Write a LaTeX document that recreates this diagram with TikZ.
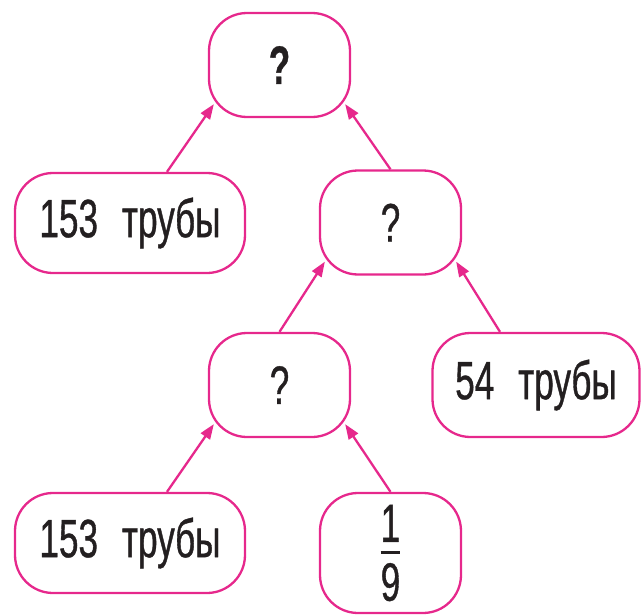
\documentclass[tikz,border=0pt]{standalone}
\usepackage{fontspec}
\setmainfont{Liberation Sans}[FakeStretch=0.65,FakeBold=0.7]
\usetikzlibrary{arrows.meta,calc}
\definecolor{pinkline}{RGB}{230,40,140}
\definecolor{inktext}{RGB}{35,31,32}
\tikzset{
  box/.style={draw=pinkline, line width=2.3pt, rounded corners=38pt, rectangle,
    inner sep=0pt, text=inktext, font=\fontsize{54}{60}\selectfont},
  smallbox/.style={box, minimum width=141pt, minimum height=104pt},
  widebox/.style={box, minimum width=230pt, minimum height=100pt},
  link/.style={draw=pinkline, line width=2.3pt, -{Triangle[length=15pt,width=11pt]}},
}
\begin{document}
\begin{tikzpicture}[x=1pt,y=-1pt]
\useasboundingbox (0,0) rectangle (641,616);
\node[smallbox] (top) at (279.5,65) {\bfseries ?};
\node[widebox] (l1) at (130,223) {153\hspace{24pt}трубы};
\node[smallbox] (m) at (390.5,222.5) {?};
\node[smallbox] (lq) at (279.5,385) {?};
\node[box, minimum width=207pt, minimum height=104pt] (r54) at (536,385) {54\hspace{24pt}трубы};
\node[widebox] (b153) at (130,543) {153\hspace{24pt}трубы};
\node[box, minimum width=141pt, minimum height=120pt] (frac) at (390.5,553) {$\displaystyle{\hbox{1}\above3pt\hbox{9}}$};
\draw[link] ($(l1.north)+(37,0)$) -- ($(top.south west)+(6,-14)$);
\draw[link] (m.north) -- ($(top.south east)+(-6,-14)$);
\draw[link] (lq.north) -- ($(m.south west)+(6,-14)$);
\draw[link] ($(r54.north)+(-36,0)$) -- ($(m.south east)+(-6,-14)$);
\draw[link] ($(b153.north)+(37,0)$) -- ($(lq.south west)+(6,-14)$);
\draw[link] (frac.north) -- ($(lq.south east)+(-6,-14)$);
\end{tikzpicture}
\end{document}
